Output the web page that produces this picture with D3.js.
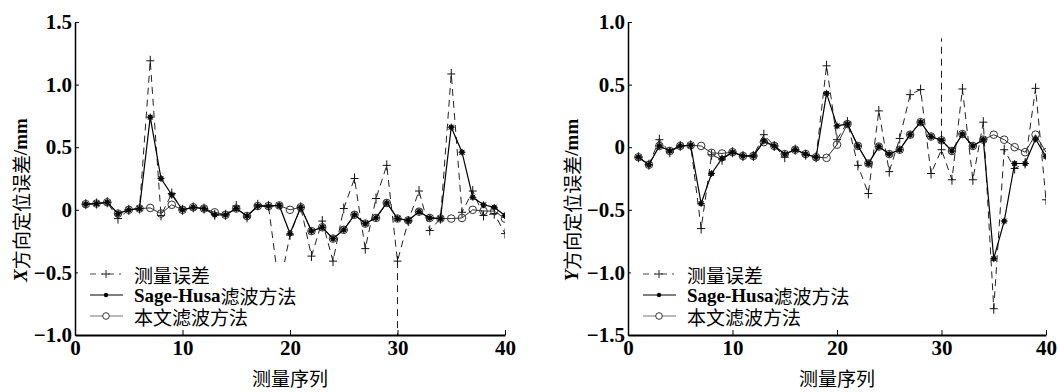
<!DOCTYPE html>
<html>
<head>
<meta charset="utf-8">
<script src="https://cdn.jsdelivr.net/npm/d3@7"></script>
<style>
  body { margin: 0; background: #fff; }
  svg { display: block; }
  .tick text { font-family: "Liberation Serif", serif; font-weight: bold; font-size: 21px; fill: #000; }
  .cjk { font-family: "Noto Sans CJK SC", sans-serif; font-size: 19px; fill: #000; }
  .ser { font-family: "Liberation Serif", serif; font-weight: bold; }
</style>
</head>
<body>
<div id="chart"></div>
<script>
// measurement index
const seq = [1,2,3,4,5,6,7,8,9,10,11,12,13,14,15,16,17,18,19,20,
             21,22,23,24,25,26,27,28,29,30,31,32,33,34,35,36,37,38,39,40];

// X direction error (mm)
const measX = [0.045,0.05,0.06,-0.07,0.0,0.01,1.19,-0.045,0.13,0.0,
               0.02,0.01,-0.04,-0.04,0.03,-0.06,0.04,0.03,-0.63,-0.2,
               0.02,-0.37,-0.09,-0.41,0.01,0.25,-0.31,0.09,0.355,-0.41,
               -0.09,0.15,-0.165,-0.07,1.085,-0.02,0.15,-0.045,-0.03,-0.19];
const sageX = [0.045,0.05,0.06,-0.03,0.0,0.01,0.74,0.25,0.12,0.0,
               0.02,0.01,-0.04,-0.04,0.01,-0.05,0.03,0.03,0.035,-0.19,
               0.02,-0.17,-0.14,-0.23,-0.16,-0.04,-0.11,-0.065,0.055,-0.07,
               -0.085,-0.015,-0.065,-0.07,0.66,0.46,0.1,0.04,0.02,-0.045];
const oursX = [0.045,0.05,0.06,-0.03,0.0,0.01,0.015,-0.03,0.04,0.0,
               0.02,0.01,-0.02,-0.04,0.01,-0.05,0.03,0.03,0.035,0.0,
               0.02,-0.17,-0.14,-0.23,-0.16,-0.04,-0.11,-0.065,0.055,-0.07,
               -0.085,-0.015,-0.065,-0.07,-0.07,-0.065,0.0,-0.01,-0.01,-0.07];
const spikeX = [-0.41, -1.0];   // vertical dashed stroke at index 30

// Y direction error (mm)
const measY = [-0.08,-0.14,0.06,-0.04,0.01,0.015,-0.65,-0.06,-0.10,-0.04,
               -0.07,-0.07,0.1,0.01,-0.08,-0.02,-0.06,-0.08,0.65,0.06,
               0.2,-0.145,-0.37,0.29,-0.195,0.07,0.42,0.46,-0.21,-0.02,
               -0.26,0.465,-0.26,0.2,-1.29,-0.02,-0.17,-0.13,0.47,-0.42];
const sageY = [-0.08,-0.14,0.01,-0.03,0.01,0.015,-0.45,-0.21,-0.09,-0.04,
               -0.07,-0.07,0.05,0.01,-0.055,-0.02,-0.055,-0.08,0.43,0.17,
               0.185,0.01,-0.13,0.005,-0.055,-0.02,0.1,0.2,0.085,0.055,
               -0.03,0.105,0.01,0.06,-0.89,-0.59,-0.13,-0.13,0.065,-0.075];
const oursY = [-0.08,-0.14,0.01,-0.03,0.01,0.015,0.01,-0.045,-0.05,-0.04,
               -0.07,-0.07,0.04,0.01,-0.055,-0.02,-0.055,-0.08,-0.085,0.02,
               0.185,0.01,-0.13,0.005,-0.055,-0.02,0.1,0.2,0.085,0.055,
               -0.03,0.105,0.01,0.06,0.1,0.06,0.0,-0.04,0.1,-0.04];
const spikeY = [-0.02, 0.87];

const xTicks = [0, 10, 20, 30, 40];
const yTicksX = [-1, -0.5, 0, 0.5, 1, 1.5];
const yLabelsX = ["−1.0", "−0.5", "0", "0.5", "1.0", "1.5"];
const yTicksY = [-1.5, -1, -0.5, 0, 0.5, 1];
const yLabelsY = ["−1.5", "−1.0", "−0.5", "0", "0.5", "1.0"];
const legendNames = ["测量误差", "Sage-Husa滤波方法", "本文滤波方法"];

const W = 1058, H = 392;
const svg = d3.select("#chart").append("svg").attr("width", W).attr("height", H);
svg.append("rect").attr("width", W).attr("height", H).attr("fill", "#fff");

function panel(opt) {
  const x = d3.scaleLinear().domain([0, 40]).range([opt.x0, opt.x1]);
  const y = d3.scaleLinear().domain(opt.yDomain).range([335, 22]);
  const g = svg.append("g");

  const clipId = "clip-" + opt.id;
  g.append("clipPath").attr("id", clipId).append("rect")
    .attr("x", opt.x0).attr("y", 22).attr("width", opt.x1 - opt.x0).attr("height", 313);
  const plot = g.append("g").attr("clip-path", `url(#${clipId})`);

  const line = vals => d3.line().x((d, i) => x(seq[i])).y(d => y(d))(vals);

  // measurement (dashed with + markers)
  plot.append("path").attr("d", line(opt.meas))
    .attr("fill", "none").attr("stroke", "#222").attr("stroke-width", 1)
    .attr("stroke-dasharray", "7,5");
  plot.append("path")
    .attr("d", d3.line().x(() => x(30)).y(d => y(d))(opt.spike))
    .attr("fill", "none").attr("stroke", "#222").attr("stroke-width", 1)
    .attr("stroke-dasharray", "7,5");
  plot.selectAll(".pm").data(opt.meas).enter().append("path")
    .attr("d", (d, i) => {
      const cx = x(seq[i]), cy = y(d);
      return `M${cx - 4},${cy}H${cx + 4}M${cx},${cy - 5}V${cy + 5}`;
    })
    .attr("stroke", "#111").attr("stroke-width", 1);

  // our filter (open circles)
  plot.append("path").attr("d", line(opt.ours))
    .attr("fill", "none").attr("stroke", "#333").attr("stroke-width", 1);
  plot.selectAll(".oc").data(opt.ours).enter().append("circle")
    .attr("cx", (d, i) => x(seq[i])).attr("cy", d => y(d)).attr("r", 3.8)
    .attr("fill", "none").attr("stroke", "#333").attr("stroke-width", 1);

  // Sage-Husa (solid with star markers)
  plot.append("path").attr("d", line(opt.sage))
    .attr("fill", "none").attr("stroke", "#000").attr("stroke-width", 1.2);
  plot.selectAll(".sm").data(opt.sage).enter().append("g")
    .attr("transform", (d, i) => `translate(${x(seq[i])},${y(d)})`)
    .each(function () {
      const s = d3.select(this);
      s.append("circle").attr("r", 2.6).attr("fill", "#222");
      s.append("path").attr("d", "M-3.5,0H3.5M0,-3.5V3.5M-2.5,-2.5L2.5,2.5M-2.5,2.5L2.5,-2.5")
        .attr("stroke", "#000").attr("stroke-width", 0.9);
    });

  // axes
  const ax = g.append("g").attr("transform", "translate(0,335)")
    .call(d3.axisBottom(x).tickValues(xTicks).tickFormat(d3.format("d"))
      .tickSizeInner(-5).tickSizeOuter(0).tickPadding(5));
  ax.select(".domain").attr("stroke-width", 2.2);
  ax.selectAll(".tick line").attr("stroke-width", 1);

  const ay = g.append("g").attr("transform", `translate(${opt.x0},0)`)
    .call(d3.axisLeft(y).tickValues(opt.yTicks).tickFormat((d, i) => opt.yLabels[i])
      .tickSizeInner(-4).tickSizeOuter(0).tickPadding(3));
  ay.select(".domain").attr("stroke-width", 1.5);
  ax.raise();

  // axis titles
  g.append("text").attr("class", "cjk")
    .attr("x", (opt.x0 + opt.x1) / 2).attr("y", 386).attr("text-anchor", "middle")
    .attr("font-size", 20).text("测量序列");
  const yt = g.append("text").attr("class", "cjk")
    .attr("transform", `translate(${opt.labelX},200) rotate(-90)`)
    .attr("text-anchor", "middle").attr("dominant-baseline", "central")
    .attr("font-size", 20);
  yt.append("tspan").attr("class", "ser").attr("font-style", "italic").text(opt.axisLetter);
  yt.append("tspan").text("方向定位误差");
  yt.append("tspan").attr("class", "ser").attr("font-weight", "normal").text("/mm");

  // legend
  const lg = g.append("g").attr("transform", `translate(${opt.x0},0)`);
  lg.append("rect").attr("x", 3).attr("y", 262).attr("width", 222).attr("height", 64).attr("fill", "#fff");
  const rows = [274, 295, 316];
  legendNames.forEach((name, k) => {
    const ry = rows[k];
    const sample = lg.append("g");
    if (k === 0) {
      sample.append("line").attr("x1", 15).attr("x2", 48).attr("y1", ry).attr("y2", ry)
        .attr("stroke", "#444").attr("stroke-dasharray", "6,5,2,5");
      sample.append("path").attr("d", `M27,${ry}H35M31,${ry - 4}V${ry + 4}`).attr("stroke", "#222");
    } else if (k === 1) {
      sample.append("line").attr("x1", 15).attr("x2", 48).attr("y1", ry).attr("y2", ry)
        .attr("stroke", "#000").attr("stroke-width", 1.2);
      sample.append("circle").attr("cx", 31).attr("cy", ry).attr("r", 2.2).attr("fill", "#000");
    } else {
      sample.append("line").attr("x1", 15).attr("x2", 48).attr("y1", ry).attr("y2", ry)
        .attr("stroke", "#777").attr("stroke-width", 1.2);
      sample.append("circle").attr("cx", 31).attr("cy", ry).attr("r", 3.3)
        .attr("fill", "#fff").attr("stroke", "#333");
    }
    const t = lg.append("text").attr("class", "cjk").attr("x", 59).attr("y", ry)
      .attr("dominant-baseline", "central");
    if (k === 1) {
      t.append("tspan").attr("class", "ser").text("Sage-Husa");
      t.append("tspan").text("滤波方法");
    } else {
      t.text(name);
    }
  });
}

panel({ id: "x", x0: 75, x1: 505, yDomain: [-1, 1.5], yTicks: yTicksX, yLabels: yLabelsX,
        meas: measX, sage: sageX, ours: oursX, spike: spikeX, labelX: 20, axisLetter: "X" });
panel({ id: "y", x0: 628, x1: 1046, yDomain: [-1.5, 1], yTicks: yTicksY, yLabels: yLabelsY,
        meas: measY, sage: sageY, ours: oursY, spike: spikeY, labelX: 571, axisLetter: "Y" });
</script>
</body>
</html>
